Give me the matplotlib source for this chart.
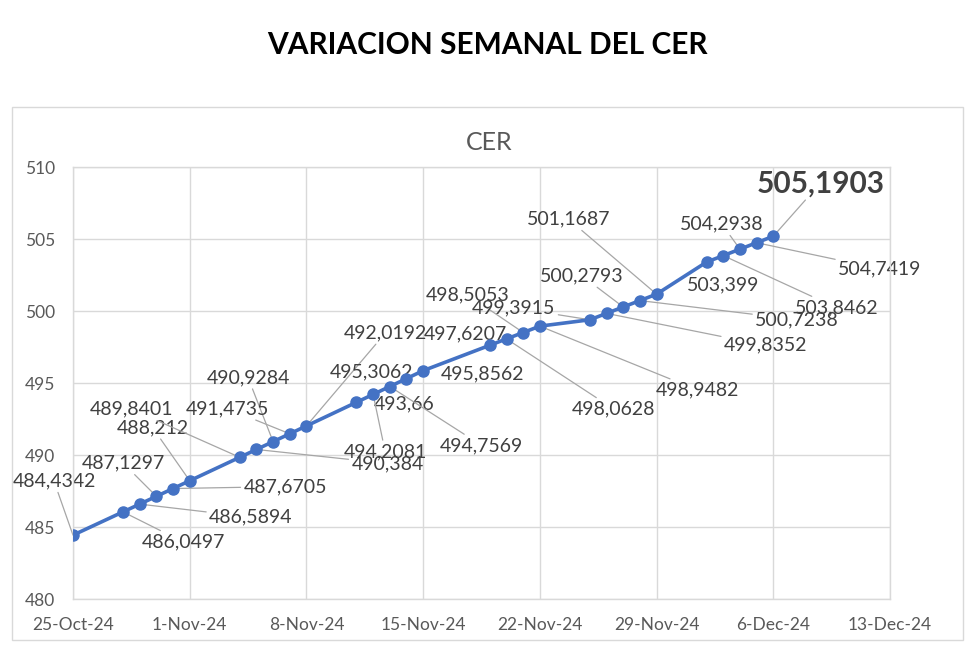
import datetime as dt

import matplotlib
matplotlib.use("Agg")
import matplotlib.pyplot as plt
import matplotlib.dates as mdates
from matplotlib.patches import Rectangle

# CER diario (dias habiles)
fechas = [
    "2024-10-25", "2024-10-28", "2024-10-29", "2024-10-30", "2024-10-31",
    "2024-11-01", "2024-11-04", "2024-11-05", "2024-11-06", "2024-11-07",
    "2024-11-08", "2024-11-11", "2024-11-12", "2024-11-13", "2024-11-14",
    "2024-11-15", "2024-11-19", "2024-11-20", "2024-11-21", "2024-11-22",
    "2024-11-25", "2024-11-26", "2024-11-27", "2024-11-28", "2024-11-29",
    "2024-12-02", "2024-12-03", "2024-12-04", "2024-12-05", "2024-12-06",
]
cer = [
    484.4342, 486.0497, 486.5894, 487.1297, 487.6705,
    488.212, 489.8401, 490.384, 490.9284, 491.4735,
    492.0192, 493.66, 494.2081, 494.7569, 495.3062,
    495.8562, 497.6207, 498.0628, 498.5053, 498.9482,
    499.3915, 499.8352, 500.2793, 500.7238, 501.1687,
    503.399, 503.8462, 504.2938, 504.7419, 505.1903,
]
x_ticks = ["2024-10-25", "2024-11-01", "2024-11-08", "2024-11-15",
           "2024-11-22", "2024-11-29", "2024-12-06", "2024-12-13"]
y_ticks = [480, 485, 490, 495, 500, 505, 510]

# where each data label sits, offset from its point in pixels, and whether it gets a leader line
label_offsets = [
    (-19, 54), (60, -30), (111, -13), (-33, 33), (112, 2),
    (-37, 53), (-108, 48), (131, -14), (-25, 64), (-62, 25),
    (79, 93), (48, -2), (12, -57), (92, -59), (-35, 7),
    (59, -3), (-24, 11), (107, -70), (-56, 38), (158, -64),
    (-76, 12), (159, -32), (-41, 31), (157, -19), (-88, 75),
    (17, -23), (113, -52), (-18, 25), (123, -26), (47, 53),
]
leaders = [
    True, True, True, True, True,
    True, True, True, True, True,
    True, False, True, True, False,
    False, False, True, True, True,
    True, True, True, True, True,
    False, True, True, True, True,
]

FONT = "Lato"
BLUE = "#4472C4"

dates = [dt.datetime.strptime(d, "%Y-%m-%d") for d in fechas]
tick_dates = [dt.datetime.strptime(d, "%Y-%m-%d") for d in x_ticks]

fig = plt.figure(figsize=(9.8, 6.48), dpi=100)
ax = fig.add_axes([73 / 980, 1 - 599 / 648, (890 - 73) / 980, (599 - 167) / 648])

ax.plot(dates, cer, color=BLUE, lw=2.6, marker="o", ms=8, zorder=3)

ax.set_xlim(tick_dates[0], tick_dates[-1])
ax.set_ylim(y_ticks[0], y_ticks[-1])
ax.set_xticks(tick_dates)
ax.set_yticks(y_ticks)
ax.xaxis.set_major_formatter(
    plt.FuncFormatter(lambda v, p: "{}-{}".format(mdates.num2date(v).day,
                                                  mdates.num2date(v).strftime("%b-%y"))))
ax.tick_params(length=0, labelsize=12.5, labelcolor="#595959", pad=13)
for lbl in ax.get_xticklabels() + ax.get_yticklabels():
    lbl.set_fontfamily(FONT)

ax.grid(True, color="#d9d9d9", lw=1)
ax.set_axisbelow(True)
for s in ax.spines.values():
    s.set_color("#d9d9d9")
    s.set_linewidth(1)

last = len(cer) - 1
for i, (d, v) in enumerate(zip(dates, cer)):
    txt = str(v).replace(".", ",")
    bold = i == last
    props = None
    if leaders[i]:
        props = dict(arrowstyle="-", color="#a6a6a6", lw=0.9, shrinkA=0, shrinkB=0)
    ax.annotate(txt, (d, v), xytext=label_offsets[i], textcoords="offset pixels",
                ha="center", va="center", family=FONT,
                fontsize=21.5 if bold else 14,
                fontweight="bold" if bold else "normal",
                color="#404040", arrowprops=props, zorder=2.5,
                annotation_clip=False)

fig.text(0.4974, 1 - 45 / 648, "VARIACION SEMANAL DEL CER", ha="center", va="center",
         family=FONT, fontweight="bold", fontsize=21.5, color="black")
fig.text(0.499, 1 - 143 / 648, "CER", ha="center", va="center",
         family=FONT, fontsize=18, color="#595959")

fig.add_artist(Rectangle((12 / 980, 1 - 640 / 648), (963 - 12) / 980, (640 - 107) / 648,
                         transform=fig.transFigure, fill=False, ec="#d9d9d9", lw=1))

fig.savefig("out.png", dpi=100)
